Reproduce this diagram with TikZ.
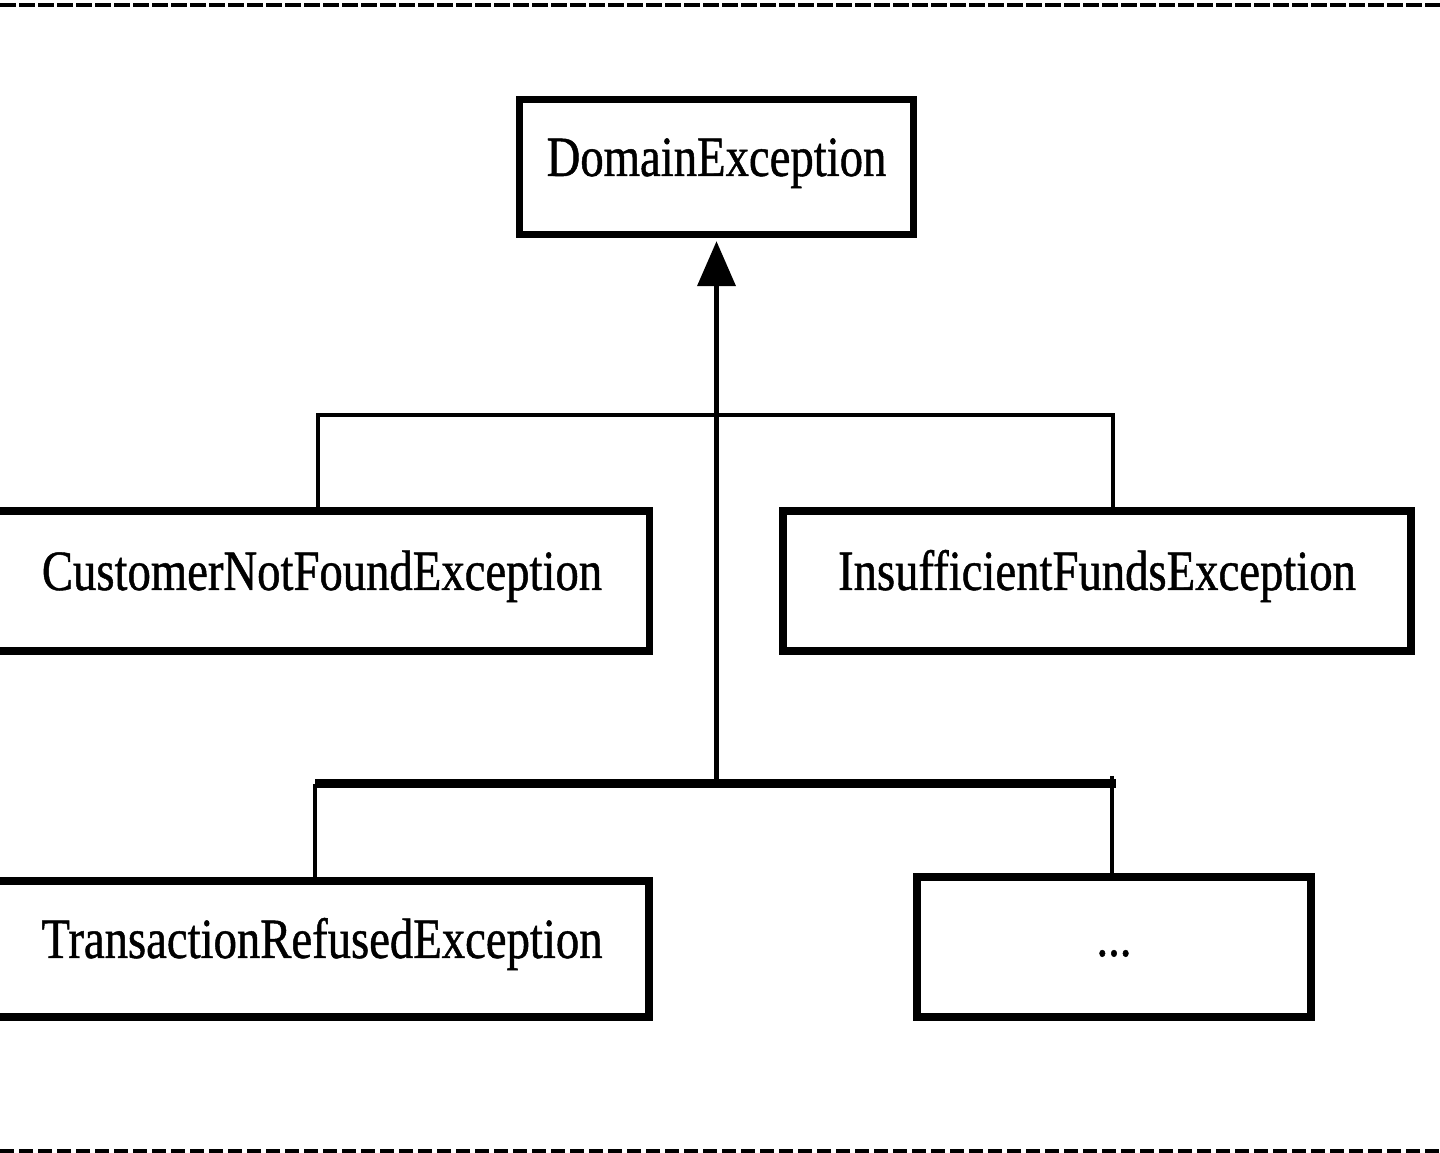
\documentclass[tikz,border=0pt]{standalone}
\usepackage{fontspec}
\setmainfont{Liberation Serif}[FakeStretch=0.82, FakeBold=0.8]
\usetikzlibrary{arrows.meta, calc, positioning}

\tikzset{
  cls/.style={draw, line width=0.072cm, fill=white, inner sep=0pt,
    minimum height=1.40cm, text height=0.40cm, text depth=0.22cm,
    font=\fontsize{16.2}{19}\selectfont},
  link/.style={line width=0.042cm},
  hub/.style={line width=0.09cm},
  rule/.style={line width=0.04cm},
}

\begin{document}
\begin{tikzpicture}
    \useasboundingbox (0,0) rectangle (14.4,-11.53);
    \clip (0,0) rectangle (14.4,-11.53);

    % frame rules
    \draw[rule, dash pattern=on 0.16cm off 0.03cm] (0,-0.05) -- (14.4,-0.05);
    \draw[rule, dash pattern=on 0.14cm off 0.05cm] (0,-11.515) -- (14.4,-11.515);

    % classes
    \node[cls, line width=0.075cm, minimum width=3.94cm, minimum height=1.35cm]
        (domain) at (7.165,-1.67) {DomainException};
    \node[cls, minimum width=6.55cm] (cust)  at (3.22,-5.81)  {CustomerNotFoundException};
    \node[cls, minimum width=6.28cm] (insuf) at (10.97,-5.81) {InsufficientFundsException};
    \node[cls, minimum width=6.54cm, minimum height=1.36cm]
        (trans) at (3.22,-9.49) {TransactionRefusedException};
    \node[cls, minimum width=3.94cm] (more)  at (11.14,-9.47) {...};

    % branch points
    \coordinate (b1w) at (3.18,-4.15);
    \coordinate (b1e) at (11.13,-4.15);
    \coordinate (b2w) at (3.15,-7.84);
    \coordinate (b2e) at (11.12,-7.84);

    \draw[link] (b1w |- cust.north) -- (b1w) -- ($(b1e)+(0.02,0)$);
    \draw[link] (b1e) -- (b1e |- insuf.north);

    \draw[hub]  (b2w) -- ($(b2e)+(0.04,0)$);
    \draw[link] (b2w) -- (b2w |- trans.north);
    \draw[link] ($(b2e)+(0,0.08)$) -- (b2e |- more.north);

    \draw[link, -{Triangle[length=0.45cm, width=0.38cm]}, shorten >=0.03cm]
        (b2w -| domain.south) -- (domain.south);
\end{tikzpicture}
\end{document}
